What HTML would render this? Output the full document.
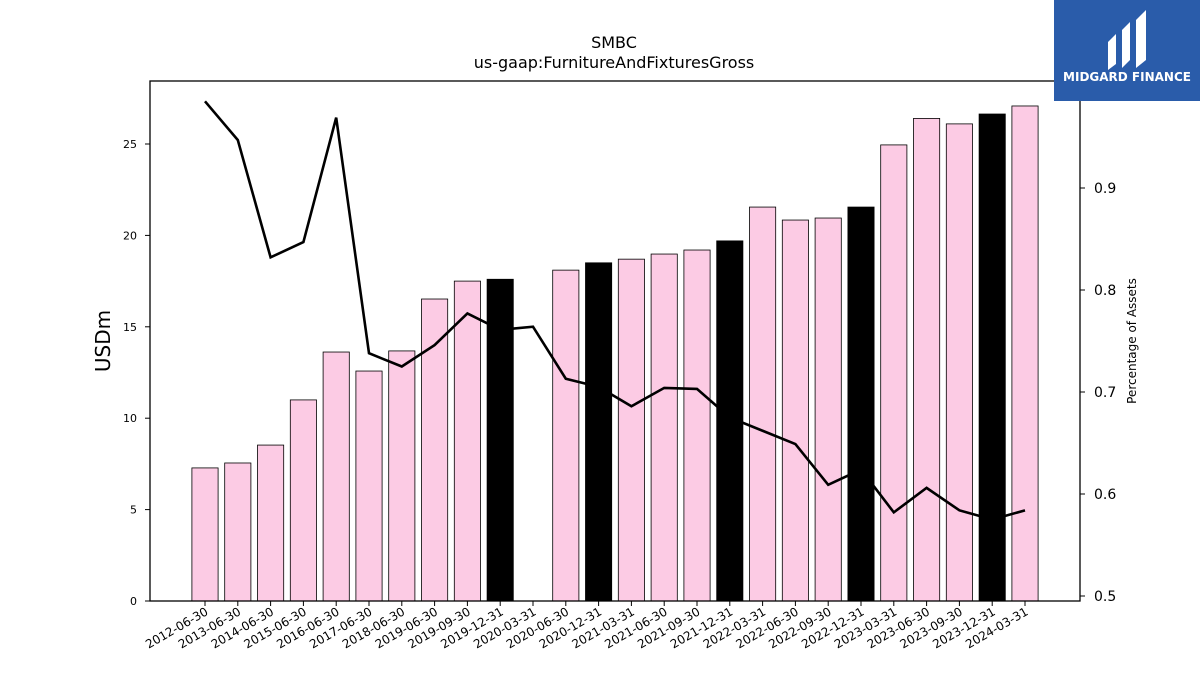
<!DOCTYPE html>
<html><head><meta charset="utf-8"><style>
body{margin:0;background:#fff;font-family:"Liberation Sans","DejaVu Sans",sans-serif;}
svg text{font-family:"DejaVu Sans","Liberation Sans",sans-serif;}
</style></head><body>
<svg id="chart" width="1200" height="675" xmlns="http://www.w3.org/2000/svg">
<rect width="1200" height="675" fill="#fff"/>
<text x="614" y="48" font-size="16" text-anchor="middle">SMBC</text>
<text x="614" y="68" font-size="16" text-anchor="middle">us-gaap:FurnitureAndFixturesGross</text>
<g id="bars"></g><g id="line"></g><g id="axes"></g>
<rect x="150" y="81" width="930" height="520" fill="none" stroke="#000" stroke-width="1.3"/>
<text transform="translate(110,341) rotate(-90)" font-size="20" text-anchor="middle">USDm</text>
<text transform="translate(1136,341) rotate(-90)" font-size="12" text-anchor="middle">Percentage of Assets</text>
<g>
<rect x="1054" y="0" width="146" height="101" fill="#2a5caa"/>
<path d="M1108 42 l8 -8 v30 l-8 6z M1122 30 l8 -8 v38 l-8 8z M1136 20 l10 -10 v50 l-10 8z" fill="#fff"/>
<text x="1127" y="81" font-size="12" font-weight="bold" fill="#fff" text-anchor="middle">MIDGARD FINANCE</text>
</g>
</svg>
<script>
const categories=["2012-06-30","2013-06-30","2014-06-30","2015-06-30","2016-06-30","2017-06-30","2018-06-30","2019-06-30","2019-09-30","2019-12-31","2020-03-31","2020-06-30","2020-12-31","2021-03-31","2021-06-30","2021-09-30","2021-12-31","2022-03-31","2022-06-30","2022-09-30","2022-12-31","2023-03-31","2023-06-30","2023-09-30","2023-12-31","2024-03-31"];
const barValues=[7.28,7.55,8.53,11.0,13.62,12.58,13.68,16.52,17.5,17.6,0,18.1,18.5,18.7,18.98,19.2,19.7,21.55,20.84,20.95,21.55,24.95,26.4,26.1,26.64,27.08];
const pctValues=[0.985,0.947,0.832,0.847,0.969,0.738,0.725,0.746,0.777,0.761,0.764,0.713,0.705,0.686,0.704,0.703,0.675,0.662,0.649,0.609,0.624,0.582,0.606,0.584,0.575,0.584];
const leftTicks=[0,5,10,15,20,25];
const rightTicks=[0.5,0.6,0.7,0.8,0.9];
const NS="http://www.w3.org/2000/svg";
const x=i=>205+i*(1025-205)/(categories.length-1);
const bw=26.2;
const yL=v=>601-v*18.28;
const yR=v=>596-(v-0.5)*1020;
const bars=document.getElementById('bars'),line=document.getElementById('line'),axes=document.getElementById('axes');
function mk(t,a,p){const e=document.createElementNS(NS,t);for(const k in a)e.setAttribute(k,a[k]);p.appendChild(e);return e;}
categories.forEach((c,i)=>{
  if(barValues[i]>0){
    const dark=c.endsWith("12-31");
    const r=mk('rect',{x:x(i)-bw/2,y:yL(barValues[i]),width:bw,height:601-yL(barValues[i]),fill:dark?'#000':'#fccbe4',stroke:'#000','stroke-width':0.8},bars);
    
    
  }
  mk('line',{x1:x(i),x2:x(i),y1:601,y2:606,stroke:'#000'},axes);
  const t=mk('text',{x:0,y:0,'font-size':12,'text-anchor':'end',transform:`translate(${x(i)+4},${614}) rotate(-30)`},axes);
  t.textContent=c;
  
  
});
const pl=mk('polyline',{points:pctValues.map((v,i)=>x(i)+','+yR(v)).join(' '),fill:'none',stroke:'#000','stroke-width':2.6},line);


leftTicks.forEach(v=>{
  mk('line',{x1:145,x2:150,y1:yL(v),y2:yL(v),stroke:'#000'},axes);
  const t=mk('text',{x:137,y:yL(v)+4,'font-size':11,'text-anchor':'end'},axes);t.textContent=v;
  
  
});
rightTicks.forEach(v=>{
  mk('line',{x1:1080,x2:1085,y1:yR(v),y2:yR(v),stroke:'#000'},axes);
  const t=mk('text',{x:1094,y:yR(v)+5,'font-size':14},axes);t.textContent=v.toFixed(1);
  
  
});
</script>
</body></html>
